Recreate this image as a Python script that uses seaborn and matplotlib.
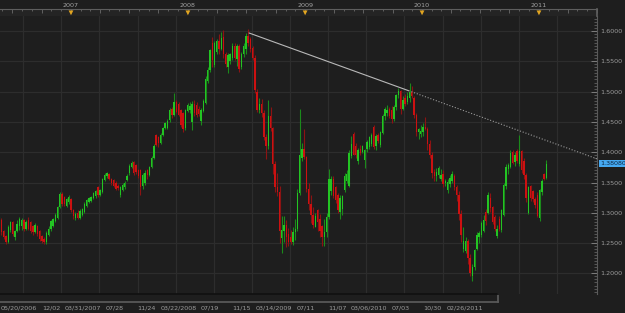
import numpy as np
import pandas as pd
import matplotlib
matplotlib.use("Agg")
import matplotlib.pyplot as plt
import matplotlib.transforms as mtransforms
from matplotlib.ticker import FixedLocator, MultipleLocator, AutoMinorLocator, FuncFormatter
import seaborn as sns

# ---------------- data (weekly EUR/USD candles) ----------------
first_week = "2006-05-22"

opens = [
    1.2740, 1.2880, 1.2700, 1.2620, 1.2520, 1.2720, 1.2840, 1.2600, 1.2700, 1.2780,
    1.2780, 1.2880, 1.2740, 1.2880, 1.2840, 1.2780, 1.2680, 1.2780, 1.2700, 1.2620,
    1.2570, 1.2510, 1.2640, 1.2740, 1.2780, 1.2860, 1.2920, 1.3100, 1.3310, 1.3260,
    1.3120, 1.3170, 1.3220, 1.3050, 1.2920, 1.3000, 1.2920, 1.2960, 1.3020, 1.3120,
    1.3180, 1.3200, 1.3250, 1.3270,
    1.3420, 1.3300, 1.3340, 1.3540, 1.3600, 1.3640, 1.3560, 1.3540, 1.3500, 1.3450,
    1.3300, 1.3380, 1.3420, 1.3540, 1.3650, 1.3760, 1.3840, 1.3790, 1.3700, 1.3700,
    1.3440, 1.3500, 1.3700, 1.3620, 1.3760, 1.3900, 1.4280, 1.4250, 1.4150, 1.4290,
    1.4400, 1.4400, 1.4530, 1.4710, 1.4620, 1.4830, 1.4800, 1.4700, 1.4640, 1.4400,
    1.4680, 1.4700, 1.4500, 1.4800,
    1.4780, 1.4720, 1.4520, 1.4680, 1.4820, 1.5180, 1.5360, 1.5800, 1.5440, 1.5660,
    1.5830, 1.5700, 1.5900, 1.5620, 1.5410, 1.5500, 1.5560, 1.5760, 1.5540, 1.5760,
    1.5400, 1.5620, 1.5700, 1.5920, 1.5860, 1.5720, 1.5560, 1.5000, 1.4690, 1.4800,
    1.4640, 1.4250, 1.4100, 1.4600, 1.4400, 1.3800, 1.3420, 1.3350, 1.2580, 1.2700,
    1.2800, 1.2650,
    1.2600, 1.2520, 1.2690, 1.2740, 1.3330, 1.3900, 1.4060, 1.3920, 1.3400, 1.3150,
    1.2970, 1.2770, 1.3050, 1.2890, 1.2780, 1.2600, 1.2680, 1.2930, 1.3360, 1.3550,
    1.3420, 1.3300, 1.3020, 1.3060, 1.3370, 1.3530, 1.3450, 1.3930, 1.4300, 1.4110,
    1.3850, 1.4060, 1.4000, 1.3870, 1.4050, 1.4090, 1.4140, 1.4420, 1.4100, 1.4290,
    1.4120, 1.4310,
    1.4590, 1.4650, 1.4720, 1.4700, 1.4540, 1.4750, 1.4940, 1.5010, 1.4720, 1.4900,
    1.4830, 1.4900, 1.5000, 1.4900, 1.4610, 1.4340, 1.4300, 1.4330, 1.4410, 1.4380,
    1.4140, 1.3950, 1.3680, 1.3600, 1.3620, 1.3550, 1.3640, 1.3490, 1.3370, 1.3480,
    1.3520, 1.3600, 1.3430, 1.3290, 1.2980, 1.2400, 1.2370, 1.2530, 1.2260, 1.1960,
    1.2110, 1.2400,
    1.2600, 1.2640, 1.2700, 1.3020, 1.3000, 1.3250, 1.3100, 1.2930, 1.2620, 1.2900,
    1.2720, 1.2960, 1.3440, 1.3730, 1.3760, 1.4000, 1.3840, 1.4020, 1.3800, 1.4020,
    1.3850, 1.3620, 1.3000, 1.3440, 1.3360, 1.3220, 1.3300, 1.2910, 1.3340, 1.3640,
    1.3570,
]

highs = [
    1.2940, 1.2910, 1.2720, 1.2640, 1.2800, 1.2870, 1.2860, 1.2720, 1.2880, 1.2930,
    1.2920, 1.2900, 1.2880, 1.2930, 1.2860, 1.2800, 1.2830, 1.2800, 1.2720, 1.2640,
    1.2600, 1.2700, 1.2780, 1.2880, 1.2920, 1.2990, 1.3120, 1.3340, 1.3340, 1.3280,
    1.3250, 1.3290, 1.3250, 1.3070, 1.3010, 1.3040, 1.3060, 1.3080, 1.3170, 1.3230,
    1.3260, 1.3280, 1.3350, 1.3380,
    1.3440, 1.3400, 1.3580, 1.3660, 1.3680, 1.3660, 1.3580, 1.3560, 1.3520, 1.3480,
    1.3440, 1.3490, 1.3520, 1.3640, 1.3800, 1.3850, 1.3860, 1.3810, 1.3720, 1.3720,
    1.3650, 1.3700, 1.3720, 1.3780, 1.3930, 1.4140, 1.4300, 1.4270, 1.4320, 1.4420,
    1.4500, 1.4540, 1.4730, 1.4740, 1.4970, 1.4860, 1.4830, 1.4720, 1.4660, 1.4720,
    1.4810, 1.4830, 1.4850, 1.4860,
    1.4830, 1.4770, 1.4730, 1.4880, 1.5250, 1.5400, 1.5700, 1.5900, 1.5830, 1.5870,
    1.5950, 1.5990, 1.6020, 1.5650, 1.5630, 1.5640, 1.5800, 1.5800, 1.5780, 1.5780,
    1.5660, 1.5800, 1.5960, 1.6040, 1.5900, 1.5760, 1.5600, 1.5040, 1.4900, 1.4880,
    1.4700, 1.4300, 1.4860, 1.4740, 1.4420, 1.3850, 1.3660, 1.3450, 1.2950, 1.2940,
    1.2880, 1.2750,
    1.2720, 1.2770, 1.2900, 1.3400, 1.4720, 1.4150, 1.4380, 1.3940, 1.3500, 1.3300,
    1.3100, 1.2990, 1.3070, 1.2980, 1.2800, 1.2900, 1.2990, 1.3730, 1.3600, 1.3600,
    1.3440, 1.3320, 1.3300, 1.3300, 1.3660, 1.3700, 1.4040, 1.4260, 1.4340, 1.4150,
    1.4070, 1.4120, 1.4120, 1.4060, 1.4200, 1.4260, 1.4310, 1.4450, 1.4300, 1.4320,
    1.4350, 1.4630,
    1.4740, 1.4780, 1.4750, 1.4760, 1.4780, 1.4960, 1.5060, 1.5030, 1.4920, 1.4960,
    1.5000, 1.5145, 1.5100, 1.4920, 1.4650, 1.4400, 1.4450, 1.4480, 1.4580, 1.4420,
    1.4200, 1.4000, 1.3730, 1.3740, 1.3780, 1.3720, 1.3700, 1.3560, 1.3560, 1.3620,
    1.3690, 1.3640, 1.3460, 1.3360, 1.3040, 1.2770, 1.2600, 1.2560, 1.2320, 1.2160,
    1.2400, 1.2680,
    1.2700, 1.2860, 1.2960, 1.3060, 1.3340, 1.3330, 1.3120, 1.2960, 1.2800, 1.2940,
    1.3060, 1.3500, 1.3800, 1.3820, 1.4040, 1.4030, 1.4000, 1.4060, 1.4281, 1.4040,
    1.3900, 1.3660, 1.3440, 1.3460, 1.3380, 1.3260, 1.3340, 1.3400, 1.3560, 1.3660,
    1.3870,
]

lows = [
    1.2710, 1.2640, 1.2560, 1.2480, 1.2500, 1.2680, 1.2610, 1.2550, 1.2680, 1.2720,
    1.2720, 1.2700, 1.2720, 1.2710, 1.2660, 1.2640, 1.2660, 1.2620, 1.2540, 1.2500,
    1.2480, 1.2480, 1.2610, 1.2700, 1.2760, 1.2840, 1.2900, 1.3080, 1.3120, 1.3120,
    1.3100, 1.3150, 1.3020, 1.2900, 1.2880, 1.2890, 1.2900, 1.2940, 1.2990, 1.3100,
    1.3160, 1.3180, 1.3230, 1.3250,
    1.3260, 1.3280, 1.3320, 1.3520, 1.3570, 1.3540, 1.3460, 1.3420, 1.3370, 1.3380,
    1.3260, 1.3360, 1.3400, 1.3520, 1.3630, 1.3740, 1.3620, 1.3640, 1.3580, 1.3300,
    1.3400, 1.3460, 1.3560, 1.3600, 1.3740, 1.3880, 1.4100, 1.4080, 1.4130, 1.4270,
    1.4380, 1.4380, 1.4500, 1.4560, 1.4600, 1.4640, 1.4600, 1.4420, 1.4340, 1.4360,
    1.4660, 1.4640, 1.4360, 1.4600,
    1.4580, 1.4590, 1.4450, 1.4660, 1.4800, 1.5150, 1.5330, 1.5400, 1.5400, 1.5620,
    1.5620, 1.5680, 1.5550, 1.5410, 1.5300, 1.5460, 1.5520, 1.5520, 1.5420, 1.5330,
    1.5370, 1.5570, 1.5620, 1.5760, 1.5660, 1.5520, 1.4980, 1.4660, 1.4640, 1.4580,
    1.4200, 1.3880, 1.4050, 1.4350, 1.3640, 1.3340, 1.3280, 1.2500, 1.2330, 1.2520,
    1.2440, 1.2450,
    1.2480, 1.2470, 1.2550, 1.2700, 1.3300, 1.3850, 1.3880, 1.3340, 1.3050, 1.2830,
    1.2750, 1.2760, 1.2700, 1.2600, 1.2460, 1.2460, 1.2600, 1.2900, 1.3300, 1.3250,
    1.3160, 1.3000, 1.2890, 1.2960, 1.3350, 1.3500, 1.3420, 1.3900, 1.3950, 1.3900,
    1.3800, 1.3950, 1.3980, 1.3740, 1.4000, 1.4050, 1.4100, 1.4060, 1.4040, 1.4160,
    1.4080, 1.4300,
    1.4530, 1.4600, 1.4570, 1.4480, 1.4520, 1.4700, 1.4900, 1.4630, 1.4700, 1.4760,
    1.4800, 1.4830, 1.4900, 1.4560, 1.4260, 1.4220, 1.4250, 1.4260, 1.4360, 1.4030,
    1.3910, 1.3580, 1.3530, 1.3530, 1.3580, 1.3530, 1.3420, 1.3440, 1.3320, 1.3420,
    1.3490, 1.3380, 1.3200, 1.2880, 1.2520, 1.2360, 1.2330, 1.2160, 1.1960, 1.1876,
    1.2050, 1.2380,
    1.2500, 1.2600, 1.2680, 1.2800, 1.2980, 1.3020, 1.2820, 1.2700, 1.2590, 1.2700,
    1.2690, 1.2940, 1.3400, 1.3640, 1.3740, 1.3800, 1.3780, 1.3820, 1.3780, 1.3660,
    1.3550, 1.3180, 1.2980, 1.3200, 1.3180, 1.3080, 1.2930, 1.2870, 1.3300, 1.3540,
    1.3550,
]

closes = [
    1.2900, 1.2680, 1.2600, 1.2520, 1.2760, 1.2840, 1.2650, 1.2700, 1.2820, 1.2900,
    1.2880, 1.2740, 1.2850, 1.2740, 1.2700, 1.2680, 1.2800, 1.2650, 1.2570, 1.2530,
    1.2510, 1.2660, 1.2740, 1.2860, 1.2900, 1.2960, 1.3100, 1.3310, 1.3150, 1.3140,
    1.3220, 1.3260, 1.3050, 1.2940, 1.2980, 1.2920, 1.3030, 1.3060, 1.3150, 1.3210,
    1.3240, 1.3260, 1.3330, 1.3360,
    1.3300, 1.3370, 1.3550, 1.3620, 1.3650, 1.3560, 1.3490, 1.3450, 1.3400, 1.3410,
    1.3420, 1.3460, 1.3490, 1.3610, 1.3780, 1.3820, 1.3650, 1.3680, 1.3600, 1.3420,
    1.3620, 1.3660, 1.3620, 1.3760, 1.3900, 1.4110, 1.4120, 1.4150, 1.4290, 1.4400,
    1.4480, 1.4520, 1.4700, 1.4610, 1.4830, 1.4660, 1.4620, 1.4450, 1.4380, 1.4700,
    1.4780, 1.4760, 1.4800, 1.4640,
    1.4610, 1.4630, 1.4700, 1.4850, 1.5200, 1.5350, 1.5680, 1.5520, 1.5800, 1.5840,
    1.5700, 1.5880, 1.5620, 1.5450, 1.5600, 1.5620, 1.5760, 1.5550, 1.5750, 1.5380,
    1.5620, 1.5760, 1.5910, 1.5800, 1.5700, 1.5550, 1.5020, 1.4700, 1.4800, 1.4640,
    1.4250, 1.4100, 1.4600, 1.4400, 1.3800, 1.3420, 1.3350, 1.2700, 1.2720, 1.2800,
    1.2600, 1.2520,
    1.2520, 1.2690, 1.2740, 1.3330, 1.3960, 1.4060, 1.3920, 1.3400, 1.3150, 1.2970,
    1.2800, 1.2940, 1.2850, 1.2700, 1.2600, 1.2680, 1.2930, 1.3560, 1.3550, 1.3280,
    1.3210, 1.3050, 1.3250, 1.3270, 1.3610, 1.3640, 1.3990, 1.4130, 1.3960, 1.3950,
    1.4040, 1.3980, 1.4100, 1.4030, 1.4170, 1.4250, 1.4290, 1.4090, 1.4270, 1.4190,
    1.4330, 1.4590,
    1.4720, 1.4700, 1.4600, 1.4550, 1.4750, 1.4940, 1.5010, 1.4720, 1.4860, 1.4800,
    1.4930, 1.4990, 1.4930, 1.4610, 1.4340, 1.4380, 1.4350, 1.4410, 1.4380, 1.4140,
    1.3950, 1.3660, 1.3600, 1.3680, 1.3740, 1.3620, 1.3480, 1.3530, 1.3510, 1.3580,
    1.3640, 1.3430, 1.3290, 1.2980, 1.2640, 1.2540, 1.2540, 1.2260, 1.2000, 1.2110,
    1.2380, 1.2640,
    1.2660, 1.2830, 1.2880, 1.2860, 1.3300, 1.3080, 1.2850, 1.2740, 1.2740, 1.2740,
    1.3040, 1.3460, 1.3760, 1.3790, 1.3990, 1.3830, 1.3960, 1.3850, 1.4020, 1.3700,
    1.3620, 1.3250, 1.3420, 1.3240, 1.3220, 1.3130, 1.2950, 1.3370, 1.3520, 1.3560,
    1.3808,
]

price_ticks = [1.20, 1.25, 1.30, 1.35, 1.40, 1.45, 1.50, 1.55, 1.60]
year_marks = ["2007-01-01", "2008-01-01", "2009-01-01", "2010-01-01", "2011-01-01"]
year_labels = ["2007", "2008", "2009", "2010", "2011"]
grid_first_date = "2006-08-05"
bottom_labels = ["", "12/02", "03/31/2007", "07/28", "11/24", "03/22/2008", "07/19",
                 "11/15", "03/14/2009", "07/11", "11/07", "03/06/2010", "07/03",
                 "10/30", "02/26/2011"]
start_label = "05/20/2006"
trend_dates = ["2008-07-10", "2009-11-20"]
trend_prices = [1.5967, 1.5015]

# ---------------- style ----------------
BG = "#1e1e1e"
TXT = "#9c9c9c"
sns.set_theme(style="dark", rc={
    "figure.facecolor": BG, "axes.facecolor": BG, "savefig.facecolor": BG,
    "grid.color": "#2d2d2d", "text.color": TXT, "xtick.color": TXT,
    "ytick.color": TXT, "axes.edgecolor": "#555555",
})
plt.rcParams["font.family"] = ["DejaVu Sans"]

W, H = 625, 313
def box(x0, y0, x1, y1):
    return [x0 / W, 1 - y1 / H, (x1 - x0) / W, (y1 - y0) / H]

t0 = pd.Timestamp(first_week)
def pos(d):
    return (pd.Timestamp(d) - t0).days / 7.0

o = np.array(opens); h = np.array(highs); l = np.array(lows); c = np.array(closes)
n = len(c)
xs = np.arange(n)
XL = (0.34, 266.6)
YL = (1.16601, 1.62475)

fig = plt.figure(figsize=(W / 100, H / 100), dpi=100, facecolor=BG)

# ---------------- main plot ----------------
ax = fig.add_axes(box(0, 16, 597, 294))
ax.set_facecolor(BG)
ax.set_xlim(*XL)
ax.set_ylim(*YL)

grid_dates = pd.date_range(grid_first_date, periods=len(bottom_labels), freq="119D")
grid_x = [pos(d) for d in grid_dates]
ax.set_xticks(grid_x)
ax.set_yticks(price_ticks)
ax.grid(True, which="major", color="#2d2d2d", linewidth=0.9, zorder=0)
ax.set_axisbelow(True)

up = c >= o
body_col = np.where(up, "#23c423", "#cc1111")
wick_col = np.where(up, "#1b8a1b", "#8c1313")
ax.vlines(xs, l, h, colors=wick_col, linewidth=0.8, zorder=3)
ax.bar(xs, np.maximum(np.abs(c - o), 0.0008), bottom=np.minimum(o, c),
       width=0.62, color=body_col, linewidth=0, zorder=4)

# trend line through the two highs, dotted extension to the right edge
tx = [pos(d) for d in trend_dates]
slope = (trend_prices[1] - trend_prices[0]) / (tx[1] - tx[0])
y_end = trend_prices[1] + slope * (XL[1] - tx[1])
sns.lineplot(x=tx, y=trend_prices, ax=ax, color="#b9b9b9", linewidth=0.8, zorder=6)
sns.lineplot(x=[tx[1], XL[1]], y=[trend_prices[1], y_end], ax=ax, color="#9a9a9a",
             linewidth=0.8, linestyle=(0, (1, 1.6)), zorder=6)
ax.set_xlabel("")
ax.set_ylabel("")

ax.tick_params(axis="x", length=0, labelbottom=False, labeltop=False)
ax.yaxis.tick_right()
ax.yaxis.set_major_formatter(FuncFormatter(lambda v, p: f"{v:.4f}"))
ax.yaxis.set_minor_locator(MultipleLocator(0.005))
ax.tick_params(axis="y", which="major", direction="in", length=4, width=0.6,
               color="#8a8a8a", labelsize=4.6, labelcolor=TXT, pad=2.5,
               right=True, left=False)
ax.tick_params(axis="y", which="minor", direction="in", length=2, width=0.5,
               color="#6e6e6e", right=True, left=False)
for s in ["left", "top", "bottom"]:
    ax.spines[s].set_visible(False)
ax.spines["right"].set_color("#5a5a5a")
ax.spines["right"].set_linewidth(0.8)

trans = mtransforms.blended_transform_factory(ax.transAxes, ax.transData)
ax.text(1.006, c[-1], f"{c[-1]:.5f}", transform=trans, fontsize=4.6,
        color="#0c2640", va="center", ha="left", clip_on=False, zorder=10,
        bbox=dict(boxstyle="square,pad=0.18", fc="#45a9f2", ec="none"))

# ---------------- top date strip ----------------
axt = fig.add_axes(box(0, 9, 597, 16))
axt.set_facecolor("#242424")
axt.set_xlim(*XL)
axt.set_ylim(0, 1)
axt.set_yticks([])
month_pos = [pos(d) for d in pd.date_range("2006-06-01", "2011-12-01", freq="MS")]
quarter_pos = [pos(d) for d in pd.date_range("2006-07-01", "2011-10-01", freq="QS")]
axt.xaxis.set_major_locator(FixedLocator(quarter_pos))
axt.xaxis.set_minor_locator(FixedLocator(month_pos))
axt.tick_params(axis="x", which="both", top=True, bottom=False, direction="in",
                labeltop=False, labelbottom=False, color="#7a7a7a", width=0.5)
axt.tick_params(axis="x", which="major", length=3)
axt.tick_params(axis="x", which="minor", length=1.5)
for s in ["left", "bottom"]:
    axt.spines[s].set_visible(False)
axt.spines["top"].set_color("#5e5e5e")
axt.spines["top"].set_linewidth(0.8)
axt.spines["right"].set_color("#5e5e5e")
yr_pos = [pos(d) for d in year_marks]
axt.scatter(yr_pos, [0.45] * len(yr_pos), marker="v", s=12, color="#e2a520",
            edgecolors="none", zorder=5, clip_on=False)
ttrans = mtransforms.blended_transform_factory(axt.transData, axt.transAxes)
for p, lab in zip(yr_pos, year_labels):
    axt.text(p, 1.57, lab, transform=ttrans, ha="center", va="center",
             fontsize=4.6, color="#a3a3a3", clip_on=False)

# ---------------- bottom date strip (compressed) ----------------
axb = fig.add_axes(box(0, 294, 498, 302))
axb.set_facecolor(BG)
axb.set_xlim(*XL)
axb.set_ylim(0, 1)
axb.set_yticks([])
axb.set_xticks(grid_x)
axb.set_xticklabels(bottom_labels)
axb.xaxis.set_minor_locator(AutoMinorLocator(8))
axb.tick_params(axis="x", which="major", direction="in", length=4, width=0.5,
                color="#7a7a7a", labelsize=4.6, labelcolor=TXT, pad=2.5)
axb.tick_params(axis="x", which="minor", direction="in", length=2, width=0.5,
                color="#666666")
axb.spines["left"].set_visible(False)
axb.spines["top"].set_color("#111111")
axb.spines["bottom"].set_color("#5a5a5a")
axb.spines["right"].set_color("#5a5a5a")
axb.annotate(start_label, xy=(0, 0), xycoords="axes fraction", xytext=(0.5, -2.5),
             textcoords="offset points", ha="left", va="top", fontsize=4.6,
             color=TXT, annotation_clip=False)

fig.savefig("out.png", dpi=100, facecolor=BG)
